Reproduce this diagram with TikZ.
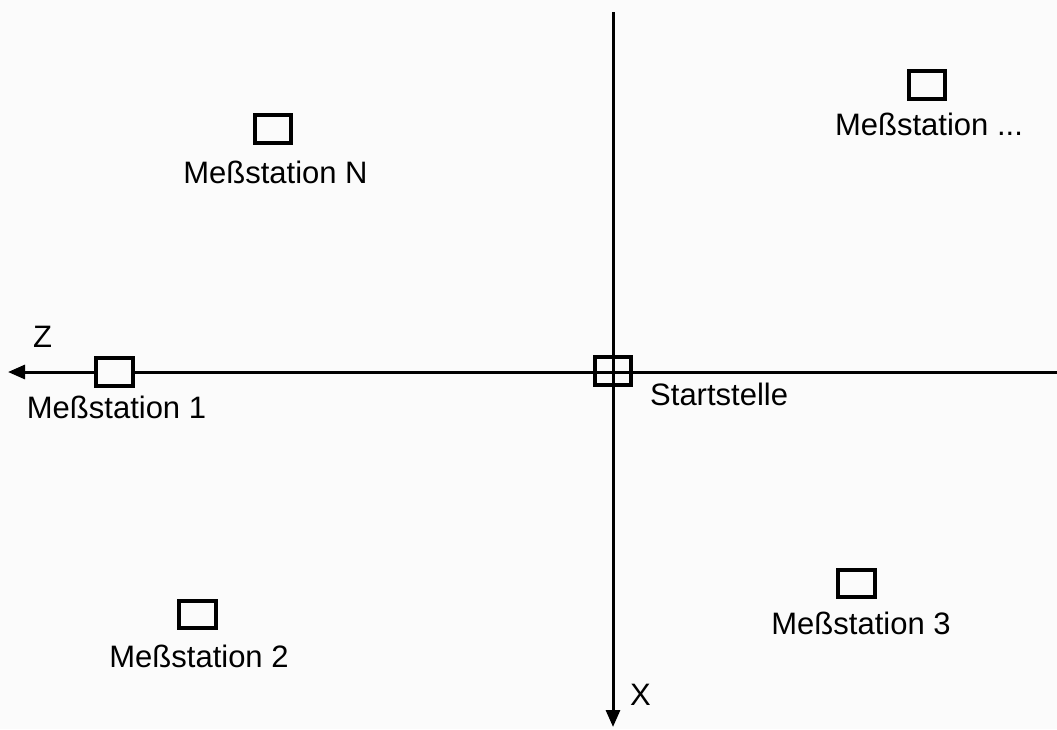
\documentclass[tikz,border=0pt]{standalone}
\usepackage{fontspec}
\setmainfont{Liberation Sans}
\usetikzlibrary{arrows.meta}
\definecolor{paper}{RGB}{251,251,251}
\begin{document}
\begin{tikzpicture}[x=1pt,y=-1pt,
  axis/.style={line width=3pt,-{Triangle[length=17pt,width=14pt]}},
  station/.style={draw,line width=3.6pt,minimum width=36.5pt,minimum height=27.5pt,inner sep=0pt},
  lbl/.style={inner sep=0pt,font=\fontsize{31}{36}\selectfont}]
  % page with its margins
  \fill[paper] (0,0) rectangle (1057,729);
  \useasboundingbox (0,0) rectangle (1057,729);

  % axes
  \coordinate (zfrom) at (1057,372);
  \coordinate (zto) at (8,372);
  \coordinate (xfrom) at (613,12);
  \coordinate (xto) at (613,727);
  \draw[axis] (zfrom) -- (zto);
  \draw[axis] (xfrom) -- (xto);
  \node[lbl,anchor=base west] (zlabel) at (33,347) {Z};
  \node[lbl,anchor=base west] (xlabel) at (630,705) {X};

  % start point (axes remain visible inside)
  \node[station,minimum height=28.5pt] (start) at (613,371) {};
  \node[lbl,anchor=base west] (startlbl) at (650,405) {Startstelle};

  % measuring stations
  \node[station,fill=paper] (m1) at (114.5,372) {};
  \node[lbl,anchor=base] (m1lbl) at (116.5,418) {Meßstation 1};

  \node[station] (m2) at (197.5,614.5) {};
  \node[lbl,anchor=base] (m2lbl) at (199,667) {Meßstation 2};

  \node[station] (m3) at (856.5,583.5) {};
  \node[lbl,anchor=base] (m3lbl) at (861,634) {Meßstation 3};

  \node[station] (mn) at (273,129) {};
  \node[lbl,anchor=base] (mnlbl) at (275.5,183) {Meßstation N};

  \node[station] (mdots) at (927,85) {};
  \node[lbl,anchor=base] (mdotslbl) at (929,135) {Meßstation ...};
\end{tikzpicture}
\end{document}
